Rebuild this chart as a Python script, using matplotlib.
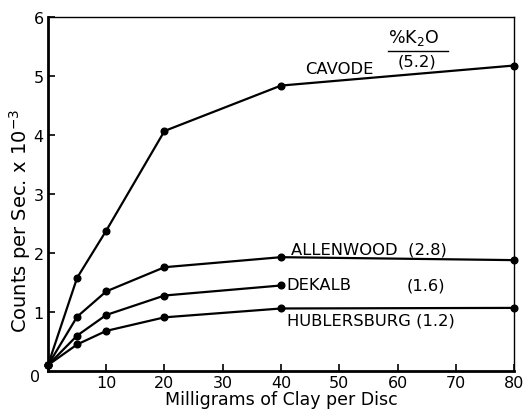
import matplotlib
matplotlib.use("Agg")
import matplotlib.pyplot as plt

x_cavode = [0, 5, 10, 20, 40, 80]
y_cavode = [0.1, 1.58, 2.38, 4.07, 4.84, 5.18]
x_allen = [0, 5, 10, 20, 40, 80]
y_allen = [0.1, 0.92, 1.35, 1.76, 1.93, 1.88]
x_dekalb = [0, 5, 10, 20, 40]
y_dekalb = [0.1, 0.60, 0.95, 1.28, 1.45]
x_hubl = [0, 5, 10, 20, 40, 80]
y_hubl = [0.1, 0.45, 0.68, 0.91, 1.06, 1.07]

x_ticks = [10, 20, 30, 40, 50, 60, 70, 80]
y_ticks = [1, 2, 3, 4, 5, 6]

plt.rcParams['font.family'] = ['DejaVu Sans']
fig = plt.figure(figsize=(5.29, 4.10), dpi=100)
ax = fig.add_axes([0.0907, 0.0927, 0.881, 0.863])

for xs, ys in [(x_cavode, y_cavode), (x_allen, y_allen), (x_dekalb, y_dekalb), (x_hubl, y_hubl)]:
    ax.plot(xs, ys, color='black', lw=1.6, marker='o', ms=4.8, clip_on=False, zorder=3)

ax.set_xlim(0, 80)
ax.set_ylim(0, 6)
ax.set_xticks(x_ticks)
ax.set_xticklabels([str(t) for t in x_ticks])
ax.set_yticks(y_ticks)
ax.set_yticklabels([str(t) for t in y_ticks])
ax.tick_params(direction='in', length=5, width=1.2, labelsize=11.5, pad=3)
ax.text(-1.3, -0.1, '0', ha='right', va='center', fontsize=11.5, transform=ax.transData)

for s in ['left', 'bottom']:
    ax.spines[s].set_linewidth(2.0)
for s in ['top', 'right']:
    ax.spines[s].set_linewidth(1.0)

ax.set_xlabel('Milligrams of Clay per Disc', fontsize=12.5, labelpad=0)
fig.text(20/529, 1 - 221/410, r'Counts per Sec. x 10$^{-3}$', rotation=90,
         ha='center', va='center', fontsize=14)

fs = 11.8
ax.text(58.3, 5.66, '%K$_2$O', fontsize=12.5, ha='left', va='center')
ax.plot([58.3, 68.7], [5.42, 5.42], color='black', lw=1.0)
ax.text(44.1, 5.13, 'CAVODE', fontsize=fs, ha='left', va='center')
ax.text(60.0, 5.25, '(5.2)', fontsize=fs, ha='left', va='center')
ax.text(41.8, 2.07, 'ALLENWOOD  (2.8)', fontsize=fs, ha='left', va='center')
ax.text(41.0, 1.46, 'DEKALB', fontsize=fs, ha='left', va='center')
ax.text(61.5, 1.46, '(1.6)', fontsize=fs, ha='left', va='center')
ax.text(41.0, 0.86, 'HUBLERSBURG (1.2)', fontsize=fs, ha='left', va='center')

fig.savefig('out.png', dpi=100)
